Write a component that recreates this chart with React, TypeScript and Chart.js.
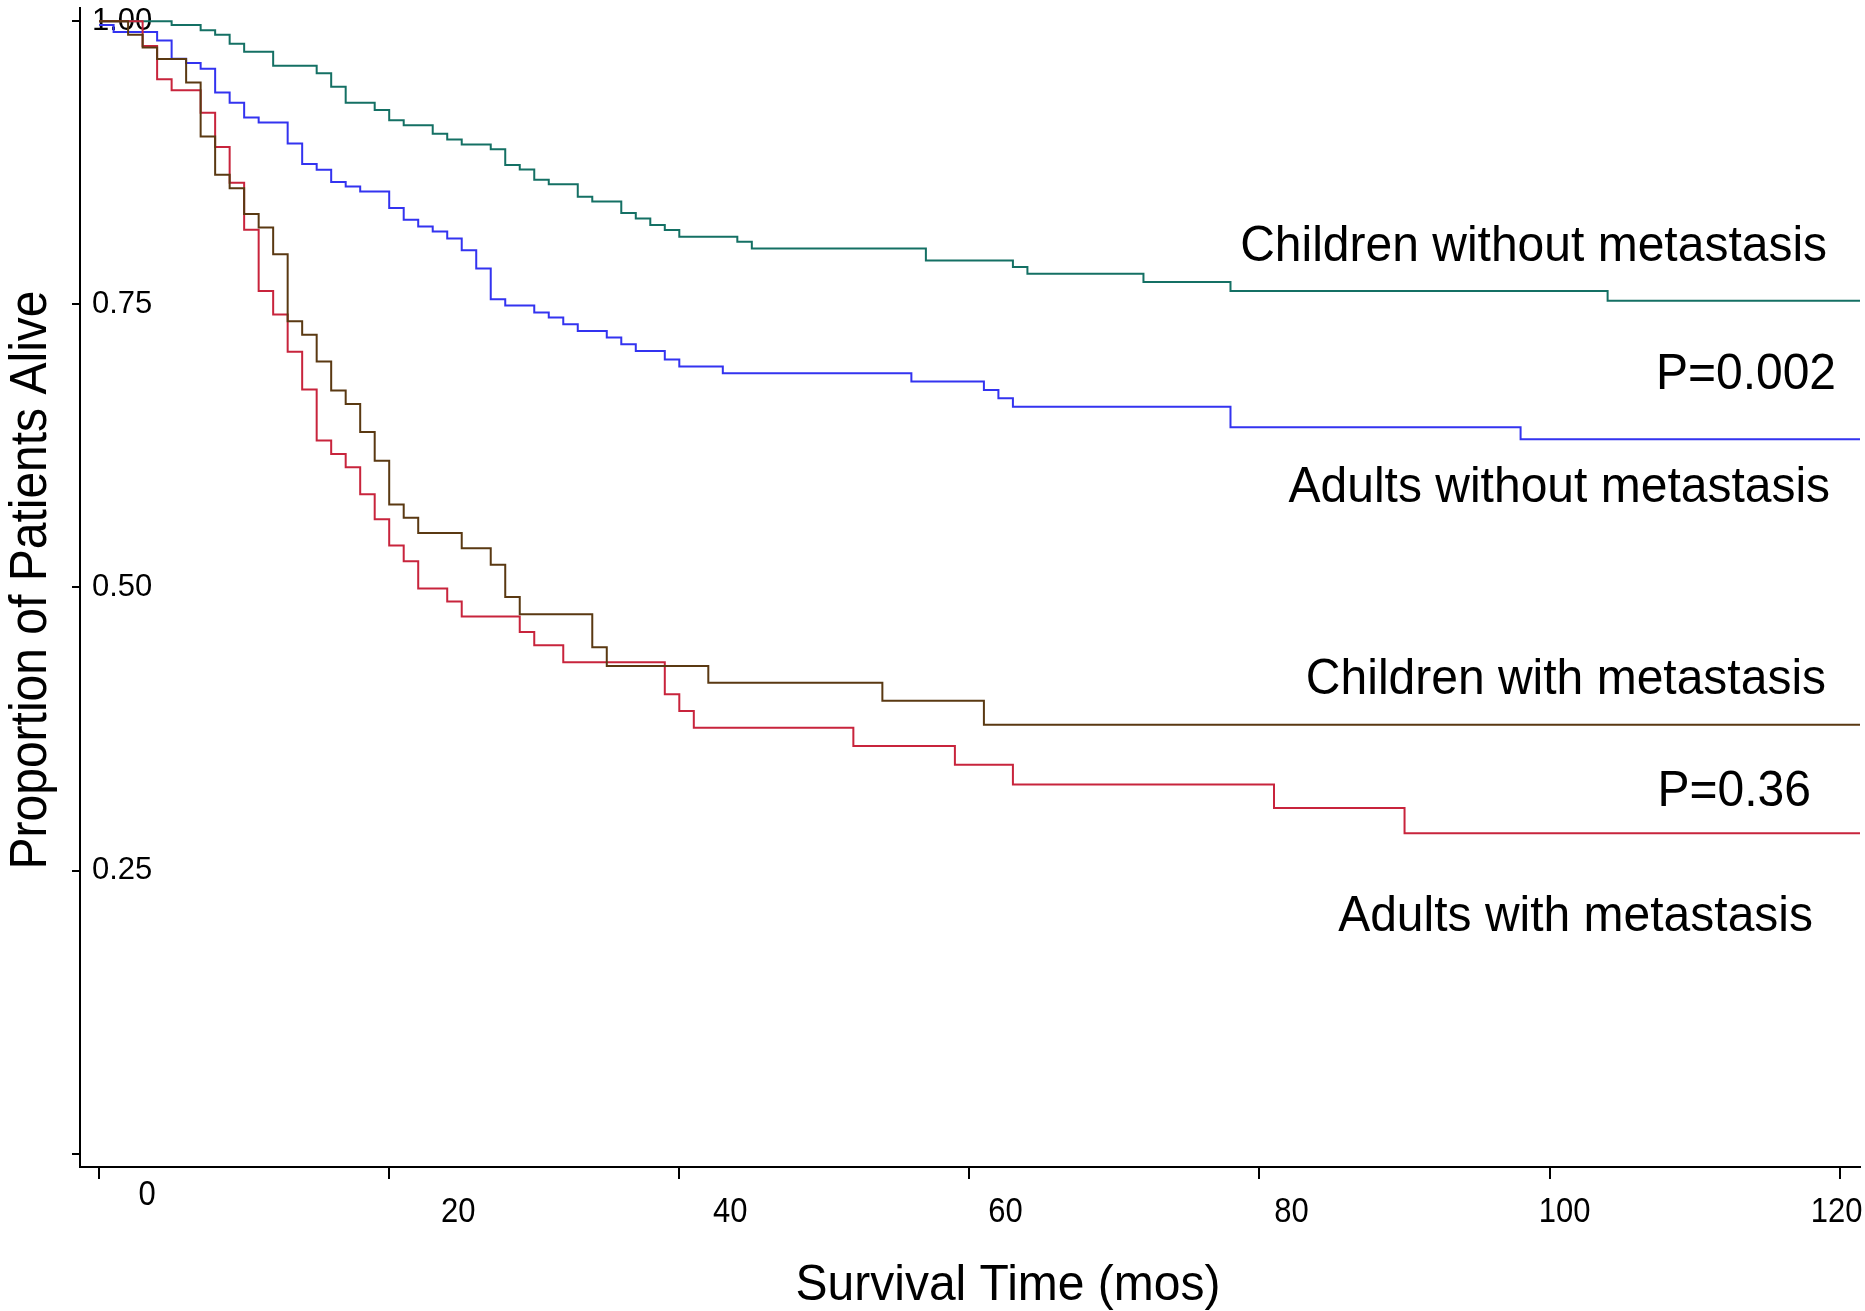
import React, { useEffect, useRef } from "react";
import { Chart, registerables } from "chart.js";

Chart.register(...registerables);

// ---------------- data ----------------
const END_TIME = 121.4; // last follow-up shown (right edge)

const monthTicks = [0, 20, 40, 60, 80, 100, 120];
const proportionTicks = [0, 0.25, 0.5, 0.75, 1];

const seriesNames = [
  "Children without metastasis",
  "Adults without metastasis",
  "Children with metastasis",
  "Adults with metastasis",
];

// Children without metastasis (teal)
const childNoMetTime = [0, 5, 7, 8, 9, 10, 12, 15, 16, 17, 19, 20, 21, 23, 24, 25, 27, 28, 29, 30, 31, 33, 34, 36, 37, 38, 39, 40, 44, 45, 57, 63, 64, 72, 78, 104, END_TIME];
const childNoMetSurv = [1.0, 0.9965, 0.992, 0.988, 0.98, 0.973, 0.9605, 0.954, 0.942, 0.928, 0.9215, 0.9125, 0.908, 0.9006, 0.8955, 0.891, 0.8868, 0.873, 0.869, 0.86, 0.856, 0.845, 0.8407, 0.8305, 0.8258, 0.82, 0.8155, 0.8096, 0.8051, 0.7992, 0.7886, 0.7828, 0.777, 0.7697, 0.7618, 0.7531, 0.7531];

// Adults without metastasis (blue)
const adultNoMetTime = [0, 1, 4, 5, 6, 7, 8, 9, 10, 11, 13, 14, 15, 16, 17, 18, 20, 21, 22, 23, 24, 25, 26, 27, 28, 30, 31, 32, 33, 35, 36, 37, 39, 40, 43, 56, 61, 62, 63, 78, 98, END_TIME];
const adultNoMetSurv = [0.9965, 0.9905, 0.983, 0.9668, 0.963, 0.958, 0.937, 0.928, 0.915, 0.9105, 0.892, 0.8738, 0.8687, 0.858, 0.854, 0.8496, 0.835, 0.8246, 0.8187, 0.8142, 0.808, 0.7978, 0.7815, 0.7545, 0.7488, 0.7427, 0.7383, 0.7324, 0.7265, 0.7206, 0.7147, 0.7088, 0.7012, 0.695, 0.6891, 0.6817, 0.6744, 0.667, 0.6596, 0.6415, 0.6308, 0.6308];

// Children with metastasis (brown)
const childMetTime = [0, 2, 3, 4, 6, 7, 8, 9, 10, 11, 12, 13, 14, 15, 16, 17, 18, 19, 20, 21, 22, 25, 27, 28, 29, 34, 35, 42, 54, 61, END_TIME];
const childMetSurv = [1.0, 0.988, 0.9768, 0.9665, 0.9459, 0.8982, 0.8643, 0.8525, 0.8296, 0.8178, 0.7941, 0.735, 0.7231, 0.6995, 0.6738, 0.662, 0.6372, 0.6119, 0.5732, 0.5614, 0.548, 0.5346, 0.52, 0.4916, 0.4762, 0.4471, 0.4306, 0.4158, 0.3999, 0.3787, 0.3787];

// Adults with metastasis (red)
const adultMetTime = [0, 3, 4, 5, 7, 8, 9, 10, 11, 12, 13, 14, 15, 16, 17, 18, 19, 20, 21, 22, 24, 25, 29, 30, 32, 39, 40, 41, 52, 59, 63, 81, 90, END_TIME];
const adultMetSurv = [1.0, 0.978, 0.9487, 0.9389, 0.919, 0.8888, 0.8572, 0.8158, 0.7618, 0.7409, 0.7081, 0.6747, 0.6297, 0.6178, 0.606, 0.5823, 0.5602, 0.537, 0.523, 0.4991, 0.4876, 0.4742, 0.4606, 0.4488, 0.4338, 0.4056, 0.3908, 0.3761, 0.3599, 0.3434, 0.326, 0.3051, 0.283, 0.283];

const annotationTexts = [
  "Children without metastasis",
  "P=0.002",
  "Adults without metastasis",
  "Children with metastasis",
  "P=0.36",
  "Adults with metastasis",
];

const xTitle = "Survival Time (mos)";
const yTitle = "Proportion of Patients Alive";

// ---------------- style / layout ----------------
const FONT = "'Liberation Sans', Arial, Helvetica, sans-serif";
const COLORS = {
  childNoMet: "#147064",
  adultNoMet: "#3333f0",
  childMet: "#5a3912",
  adultMet: "#c8243c",
};
const W = 1865;
const H = 1311;
// anchors (right edge, vertical centre) of the annotation texts, in data units
const ANNOT_ANCHORS = [
  [119.13, 0.8004],
  [119.75, 0.6873],
  [119.34, 0.5878],
  [119.06, 0.4182],
  [118.02, 0.3192],
  [118.16, 0.2085],
];
// per-label offsets of the x tick labels relative to their tick (px)
const XLABEL_DX = [48, 69, 51, 36, 32, 15, -3];
const XLABEL_DY = [28, 45, 45, 45, 45, 45, 45];

const toPoints = (t: number[], s: number[]) => t.map((x, i) => ({ x, y: s[i] }));

const textPlugin = {
  id: "kmTexts",
  afterDraw(chart: any) {
    const { ctx } = chart;
    const xs = chart.scales.x;
    const ys = chart.scales.y;
    ctx.save();
    ctx.fillStyle = "#000";

    // x tick labels (slightly tall glyphs, as in the reference)
    ctx.font = `31px ${FONT}`;
    ctx.textAlign = "center";
    ctx.textBaseline = "middle";
    monthTicks.forEach((m, i) => {
      ctx.save();
      ctx.translate(xs.getPixelForValue(m) + XLABEL_DX[i], xs.top + XLABEL_DY[i]);
      ctx.scale(1, 1.12);
      ctx.fillText(String(m), 0, 0);
      ctx.restore();
    });

    // annotations
    ctx.font = `48px ${FONT}`;
    ctx.textAlign = "right";
    annotationTexts.forEach((txt, i) => {
      const [mx, vy] = ANNOT_ANCHORS[i];
      ctx.save();
      ctx.translate(xs.getPixelForValue(mx), ys.getPixelForValue(vy));
      ctx.scale(1, 1.04);
      ctx.fillText(txt, 0, 0);
      ctx.restore();
    });

    // x title
    ctx.textAlign = "center";
    ctx.save();
    ctx.translate(1008, 1286);
    ctx.scale(1, 1.05);
    ctx.fillText(xTitle, 0, 0);
    ctx.restore();

    // y title
    ctx.translate(31.5, 580);
    ctx.rotate(-Math.PI / 2);
    ctx.scale(1, 1.08);
    ctx.fillText(yTitle, 0, 0);
    ctx.restore();
  },
};

export default function App() {
  const ref = useRef<HTMLCanvasElement | null>(null);

  useEffect(() => {
    if (!ref.current) return;
    const line = (label: string, t: number[], s: number[], color: string) => ({
      label,
      data: toPoints(t, s),
      borderColor: color,
      backgroundColor: color,
      borderWidth: 2,
      pointRadius: 0,
      stepped: "before" as const,
      fill: false,
      tension: 0,
    });

    const chart = new Chart(ref.current, {
      type: "line",
      data: {
        datasets: [
          line(seriesNames[2], childMetTime, childMetSurv, COLORS.childMet),
          line(seriesNames[3], adultMetTime, adultMetSurv, COLORS.adultMet),
          line(seriesNames[1], adultNoMetTime, adultNoMetSurv, COLORS.adultNoMet),
          line(seriesNames[0], childNoMetTime, childNoMetSurv, COLORS.childNoMet),
        ],
      },
      options: {
        responsive: false,
        animation: false,
        events: [],
        layout: { padding: { top: 8, right: 5, left: 0, bottom: 0 } },
        plugins: {
          legend: { display: false },
          tooltip: { enabled: false },
          title: { display: false },
        },
        scales: {
          x: {
            type: "linear",
            min: -1.317,
            max: END_TIME,
            afterBuildTicks: (scale: any) => {
              scale.ticks = monthTicks.map((v) => ({ value: v }));
            },
            afterFit: (scale: any) => {
              scale.height = 144;
              scale.paddingLeft = 0;
              scale.paddingRight = 0;
              scale.paddingTop = 0;
              scale.paddingBottom = 0;
            },
            ticks: { display: false },
            grid: {
              display: true,
              drawOnChartArea: false,
              drawTicks: true,
              tickLength: 12,
              color: "#000",
              lineWidth: 2,
            },
            border: { display: true, color: "#000", width: 2 },
          },
          y: {
            type: "linear",
            min: -0.0118,
            max: 1.0116,
            afterBuildTicks: (scale: any) => {
              scale.ticks = proportionTicks.map((v) => ({ value: v }));
            },
            afterFit: (scale: any) => {
              scale.width = 80;
              scale.paddingLeft = 0;
              scale.paddingRight = 0;
              scale.paddingTop = 0;
              scale.paddingBottom = 0;
            },
            ticks: {
              mirror: true,
              padding: 12,
              color: "#000",
              font: { family: FONT, size: 31 },
              callback: (v: any) => (Number(v) === 0 ? "" : Number(v).toFixed(2)),
            },
            grid: {
              display: true,
              drawOnChartArea: false,
              drawTicks: true,
              tickLength: 8,
              color: "#000",
              lineWidth: 2,
            },
            border: { display: true, color: "#000", width: 2 },
          },
        },
      },
      plugins: [textPlugin],
    });
    return () => chart.destroy();
  }, []);

  return (
    <div style={{ position: "fixed", left: 0, top: 0, width: W, height: H, background: "#fff" }}>
      <canvas ref={ref} width={W} height={H} style={{ display: "block", width: W, height: H }} />
    </div>
  );
}
